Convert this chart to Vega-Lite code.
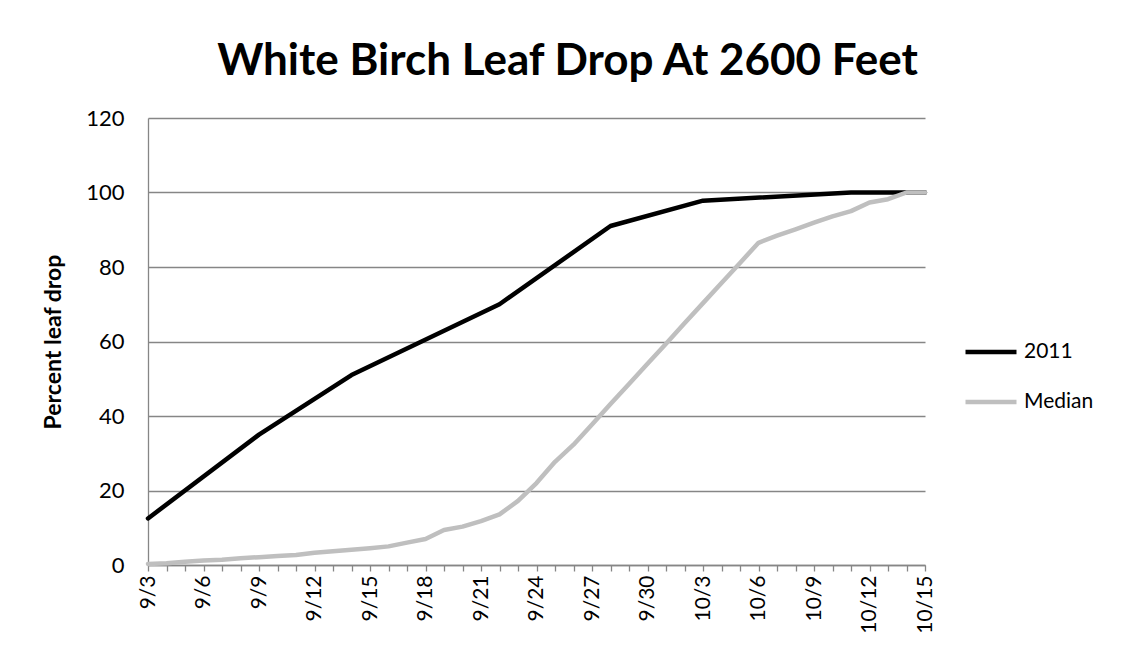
{
  "$schema": "https://vega.github.io/schema/vega-lite/v6.json",
  "autosize": {"type": "none"},
  "padding": {"left": 148, "top": 118, "right": 196, "bottom": 95},
  "width": 777,
  "height": 447,
  "background": "white",
  "title": {
    "text": "White Birch Leaf Drop At 2600 Feet",
    "font": "Lato",
    "fontSize": 44,
    "fontWeight": "bold",
    "color": "#000000",
    "anchor": "middle",
    "frame": "group",
    "dx": 31,
    "offset": 23
  },
  "config": {
    "view": {"stroke": null},
    "font": "Lato"
  },
  "data": {
    "values": [
      {"date": "2011/09/03", "series": "2011", "value": 12.5},
      {"date": "2011/09/09", "series": "2011", "value": 35},
      {"date": "2011/09/14", "series": "2011", "value": 51},
      {"date": "2011/09/22", "series": "2011", "value": 70},
      {"date": "2011/09/28", "series": "2011", "value": 91},
      {"date": "2011/10/03", "series": "2011", "value": 97.8},
      {"date": "2011/10/11", "series": "2011", "value": 100},
      {"date": "2011/10/15", "series": "2011", "value": 100},
      {"date": "2011/09/03", "series": "Median", "value": 0.3},
      {"date": "2011/09/04", "series": "Median", "value": 0.5},
      {"date": "2011/09/05", "series": "Median", "value": 0.9},
      {"date": "2011/09/06", "series": "Median", "value": 1.2},
      {"date": "2011/09/07", "series": "Median", "value": 1.4},
      {"date": "2011/09/08", "series": "Median", "value": 1.8},
      {"date": "2011/09/09", "series": "Median", "value": 2.1},
      {"date": "2011/09/10", "series": "Median", "value": 2.4},
      {"date": "2011/09/11", "series": "Median", "value": 2.7},
      {"date": "2011/09/12", "series": "Median", "value": 3.3},
      {"date": "2011/09/13", "series": "Median", "value": 3.7},
      {"date": "2011/09/14", "series": "Median", "value": 4.1},
      {"date": "2011/09/15", "series": "Median", "value": 4.5},
      {"date": "2011/09/16", "series": "Median", "value": 5.0},
      {"date": "2011/09/17", "series": "Median", "value": 6.0},
      {"date": "2011/09/18", "series": "Median", "value": 7.0},
      {"date": "2011/09/19", "series": "Median", "value": 9.4},
      {"date": "2011/09/20", "series": "Median", "value": 10.3},
      {"date": "2011/09/21", "series": "Median", "value": 11.8},
      {"date": "2011/09/22", "series": "Median", "value": 13.6},
      {"date": "2011/09/23", "series": "Median", "value": 17.2},
      {"date": "2011/09/24", "series": "Median", "value": 22},
      {"date": "2011/09/25", "series": "Median", "value": 27.7},
      {"date": "2011/09/26", "series": "Median", "value": 32.3},
      {"date": "2011/09/27", "series": "Median", "value": 37.7},
      {"date": "2011/09/28", "series": "Median", "value": 43.2},
      {"date": "2011/09/29", "series": "Median", "value": 48.6},
      {"date": "2011/09/30", "series": "Median", "value": 54},
      {"date": "2011/10/01", "series": "Median", "value": 59.4},
      {"date": "2011/10/02", "series": "Median", "value": 64.9},
      {"date": "2011/10/03", "series": "Median", "value": 70.3},
      {"date": "2011/10/04", "series": "Median", "value": 75.7},
      {"date": "2011/10/05", "series": "Median", "value": 81.1},
      {"date": "2011/10/06", "series": "Median", "value": 86.5},
      {"date": "2011/10/07", "series": "Median", "value": 88.4},
      {"date": "2011/10/08", "series": "Median", "value": 90.1},
      {"date": "2011/10/09", "series": "Median", "value": 91.9},
      {"date": "2011/10/10", "series": "Median", "value": 93.6},
      {"date": "2011/10/11", "series": "Median", "value": 95},
      {"date": "2011/10/12", "series": "Median", "value": 97.3},
      {"date": "2011/10/13", "series": "Median", "value": 98.2},
      {"date": "2011/10/14", "series": "Median", "value": 100},
      {"date": "2011/10/15", "series": "Median", "value": 100}
    ]
  },
  "mark": {"type": "line", "strokeWidth": 4.5, "strokeCap": "round", "strokeJoin": "round"},
  "encoding": {
    "x": {
      "field": "date",
      "type": "temporal",
      "scale": {"domain": [{"year": 2011, "month": 9, "date": 3}, {"year": 2011, "month": 10, "date": 15}]},
      "axis": {
        "title": null,
        "grid": false,
        "tickCount": {"interval": "day", "step": 1},
        "labelExpr": "(dayofyear(datum.value) - 246) % 3 == 0 ? timeFormat(datum.value, '%-m/%-d') : ''",
        "labelAngle": 270,
        "labelAlign": "right",
        "labelBaseline": "middle",
        "labelFont": "Lato",
        "labelFontSize": 21,
        "labelColor": "#000000",
        "labelPadding": 4,
        "labelOverlap": false,
        "labelBound": false,
        "labelFlush": false,
        "tickSize": 6,
        "tickColor": "#868686",
        "tickWidth": 1.3,
        "domainColor": "#868686",
        "domainWidth": 1.3
      }
    },
    "y": {
      "field": "value",
      "type": "quantitative",
      "scale": {"domain": [0, 120]},
      "axis": {
        "title": "Percent leaf drop",
        "titleFont": "Lato",
        "titleFontSize": 23,
        "titleFontWeight": "bold",
        "titleColor": "#000000",
        "titlePadding": 20,
        "values": [0, 20, 40, 60, 80, 100, 120],
        "ticks": false,
        "labelPadding": 24,
        "labelFont": "Lato",
        "labelFontSize": 22,
        "labelColor": "#000000",
        "gridColor": "#868686",
        "gridWidth": 1.3,
        "domainColor": "#868686",
        "domainWidth": 1.3
      }
    },
    "color": {
      "field": "series",
      "type": "nominal",
      "scale": {"domain": ["2011", "Median"], "range": ["#000000", "#BFBFBF"]},
      "legend": {
        "title": null,
        "orient": "none",
        "legendX": 815,
        "legendY": 206,
        "padding": 0,
        "symbolType": "stroke",
        "symbolSize": 2600,
        "symbolStrokeWidth": 4.5,
        "rowPadding": 12,
        "labelOffset": 5,
        "labelFont": "Lato",
        "labelFontSize": 21,
        "labelColor": "#000000"
      }
    },
    "order": {"field": "series"}
  }
}
